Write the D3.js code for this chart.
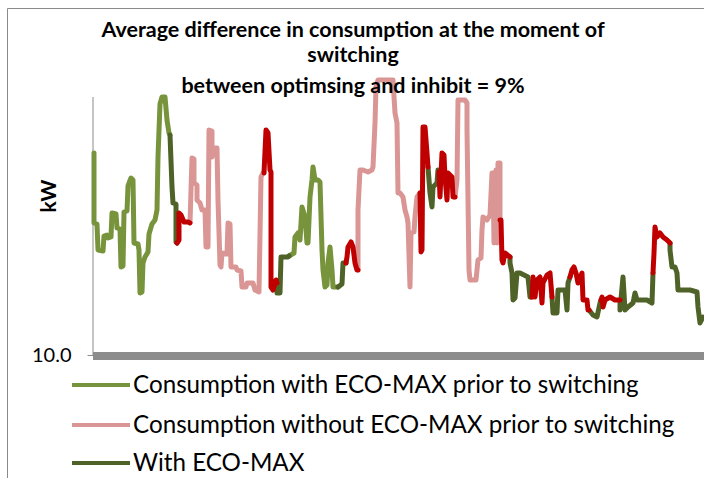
<!DOCTYPE html>
<html><head><meta charset="utf-8">
<script src="https://cdn.jsdelivr.net/npm/d3@7"></script>
<style>html,body{margin:0;padding:0;background:#fff;}svg{display:block;}</style>
</head><body>
<svg id="chart" width="704" height="478"></svg>
<script>
// Title lines
const titleLines = ["Average difference in consumption at the moment of", "switching", "between optimsing and inhibit = 9%"];
const yTickValues = [10];
const yLabel = "kW";
// Series names (legend)
const seriesNames = ["Consumption with ECO-MAX prior to switching", "Consumption without ECO-MAX prior to switching", "With ECO-MAX"];
// Each series: list of runs of [time(min), kW] points
const ecoPrior = [
  [[0,30.2],[0,23.2],[3,23.1],[4,20.5],[9,20.4],[10,21.9],[13,22.0],[14,21.7],[17,21.8],[18,24.2],[22,24.1],[23,22.7],[26,22.6],[27,18.8],[29,18.9],[30,24.3],[33,24.4],[34,26.9],[37,27.7],[39,27.5],[40,21.2],[44,21.1],[45,20.5],[46,16.2],[48,16.3],[49,19.2],[51,19.8],[54,20.3],[55,22.1],[58,23.1],[61,23.5],[63,24.5],[64,29.8],[66,35.1],[68,35.8],[71,35.8],[73,33.5],[75,32.2],[76,32.0]],
  [[195,19.9],[200,20.2],[201,21.8],[204,22.2],[206,21.5],[208,24.8],[211,23.8],[213,21.2],[214,21.2],[216,25.8],[218,27.5],[219,28.8],[221,27.5],[224,27.5],[226,27.3],[228,20.5],[229,18.5],[231,16.8],[233,17.0],[234,19.2],[236,20.8],[238,18.5],[239,16.8],[243,16.8],[244,16.8]]
];
const noEcoPrior = [
  [[96,23.2],[98,29.7],[100,29.6],[100,27.2],[103,27.0],[103,25.5],[106,25.2],[108,24.5],[111,24.5],[112,20.8],[114,20.8],[115,32.5],[118,32.4],[118,29.8],[121,30.7],[123,30.7],[124,25.5],[126,19.0],[127,18.8],[128,20.2],[133,20.1],[134,23.2],[136,23.1],[137,18.8],[142,18.8],[143,18.5],[147,18.4],[148,16.8],[152,16.8],[153,17.2],[159,17.2],[161,16.5],[165,16.3],[167,27.8],[169,28.2],[170,28.2]],
  [[264,18.5],[264,24.5],[266,28.5],[269,28.5],[274,28.3],[278,28.5],[279,28.8],[281,33.2],[282,36.8],[284,37.5],[299,37.5],[301,34.2],[303,33.2],[304,26.2],[306,26.2],[309,25.8],[311,24.5],[313,23.8],[314,23.2],[316,16.8],[317,22.2],[320,22.3],[321,23.8],[323,25.8],[326,26.2]],
  [[361,25.8],[363,27.5],[364,35.5],[371,35.5],[373,35.2],[373,32.5],[375,18.5],[376,17.5],[382,17.5],[384,19.5],[387,19.7],[388,22.5],[389,23.8],[393,23.5],[396,24.0],[398,28.2],[399,28.2],[400,21.2],[402,28.5],[403,21.2],[404,29.2],[406,29.2],[406,23.5]]
];
const withEco = [
  [[76,32.0],[78,26.8],[79,25.2],[82,25.1],[82,21.3],[83,21.2]],
  [[183,17.2],[183,16.2],[186,16.2],[187,19.8],[194,19.8],[195,19.9]],
  [[244,16.8],[248,17.1],[249,19.2],[252,19.2]],
  [[334,28.8],[336,26.2],[338,24.8],[339,26.8],[343,27.2],[344,28.5],[345,28.3]],
  [[416,19.8],[416,19.2],[418,18.2],[419,15.5],[421,15.7],[423,18.2],[426,18.2],[434,17.8],[436,15.8],[438,15.8]],
  [[458,15.8],[459,14.2],[463,14.2],[464,16.5],[471,16.5],[473,14.5],[474,17.2],[476,17.8]],
  [[495,14.5],[499,14.0],[503,13.8],[506,15.2],[507,15.5]],
  [[526,15.5],[526,14.5],[529,17.8],[531,14.5],[534,14.8],[539,15.2],[541,16.2],[543,15.5],[553,15.5],[558,15.2],[559,18.2]],
  [[576,21.2],[576,20.5],[578,18.8],[581,18.8],[583,18.2],[584,16.5],[596,16.5],[603,16.3],[604,14.8],[606,13.2],[609,13.8]]
];
// Without ECO-MAX after switching (red, not in legend)
const withoutEco = [
  [[83,21.2],[85,21.5],[85,24.2],[87,24.0],[90,23.3],[94,23.3],[96,23.2]],
  [[170,28.2],[172,32.5],[174,32.2],[176,28.5],[177,28.3],[177,16.8],[179,16.5],[182,17.5],[183,17.2]],
  [[252,19.2],[253,19.8],[254,20.8],[257,21.3],[259,20.8],[261,19.2],[263,18.5],[264,18.5]],
  [[326,26.2],[327,20.3],[328,20.5],[329,32.8],[331,32.8],[333,30.2],[334,28.8]],
  [[345,28.3],[346,25.8],[348,30.2],[350,30.0],[351,27.8],[353,25.5],[354,28.2],[358,27.8],[359,25.8],[361,25.8]],
  [[406,23.5],[407,23.5],[408,19.5],[409,19.2],[411,20.2],[416,19.8]],
  [[438,15.8],[439,17.8],[441,15.8],[443,17.5],[446,17.8],[448,15.2],[449,17.2],[453,18.0],[456,18.2],[458,15.8]],
  [[476,17.8],[478,18.5],[480,18.8],[482,18.2],[484,17.2],[488,18.2],[489,15.5],[493,15.5],[494,14.5],[495,14.5]],
  [[507,15.5],[508,15.8],[509,14.8],[511,15.5],[516,15.8],[521,15.5],[526,15.5]],
  [[559,18.2],[560,20.2],[561,22.8],[563,21.8],[566,22.2],[569,21.8],[573,21.5],[576,21.2]]
];

const colors = {ecoPrior:"#77933C", noEcoPrior:"#D99694", withEco:"#4F6228", withoutEco:"#C00000"};

const svg = d3.select("#chart");
const x = d3.scaleLinear().domain([0, 610]).range([94, 704]);
const y = d3.scaleLinear().domain([10, 36]).range([355, 95]);

// outer frame
svg.append("path").attr("d","M7.5,478 V8.5 H704").attr("fill","none").attr("stroke","#8a8a8a").attr("stroke-width",1);

// floor / x axis bar
svg.append("rect").attr("x",93).attr("y",y(10)-3).attr("width",704-93).attr("height",8).attr("fill","#8c8c8c");

// y axis
const yAxis = d3.axisLeft(y).tickValues(yTickValues).tickFormat(d3.format(".1f")).tickSize(6).tickPadding(16);
const gy = svg.append("g").attr("transform","translate(93.5,0)").call(yAxis);
gy.select(".domain").attr("d","M-0.5,97V355").attr("stroke","#8a8a8a");
gy.selectAll(".tick line").attr("stroke","#8a8a8a");
gy.selectAll(".tick text").attr("font-family","Lato, 'Open Sans', sans-serif").attr("font-size",20).attr("fill","#000").attr("dy","0.3em");

svg.append("text").attr("transform","translate(56,196) rotate(-90)").attr("text-anchor","middle")
  .attr("font-family","Lato, sans-serif").attr("font-weight","bold").attr("font-size",21).text(yLabel);

// lines
const line = d3.line().x(d=>x(d[0])).y(d=>y(d[1]));
function drawRuns(runs, color){
  svg.append("g").selectAll("path").data(runs).join("path")
    .attr("d", line).attr("fill","none").attr("stroke",color)
    .attr("stroke-width",5).attr("stroke-linejoin","round").attr("stroke-linecap","round");
}
drawRuns(noEcoPrior, colors.noEcoPrior);
drawRuns(ecoPrior, colors.ecoPrior);
drawRuns(withEco, colors.withEco);
drawRuns(withoutEco, colors.withoutEco);

// title
svg.append("g").selectAll("text").data(titleLines).join("text")
  .attr("x",353).attr("y",(d,i)=>[37,62,93][i]).attr("text-anchor","middle")
  .attr("font-family","Lato, sans-serif").attr("font-weight","bold").attr("font-size",21.5).attr("fill","#000").text(d=>d);

// legend
const legColors = [colors.ecoPrior, colors.noEcoPrior, colors.withEco];
const lg = svg.append("g").selectAll("g").data(seriesNames).join("g")
  .attr("transform",(d,i)=>`translate(0,${[385,425,463][i]})`);
lg.append("line").attr("x1",72).attr("x2",130).attr("stroke",(d,i)=>legColors[i]).attr("stroke-width",4);
lg.append("text").attr("x",133).attr("dy","0.35em").attr("font-family","Lato, sans-serif").attr("font-size",24.2).attr("fill","#000").text(d=>d);
</script>
</body></html>
